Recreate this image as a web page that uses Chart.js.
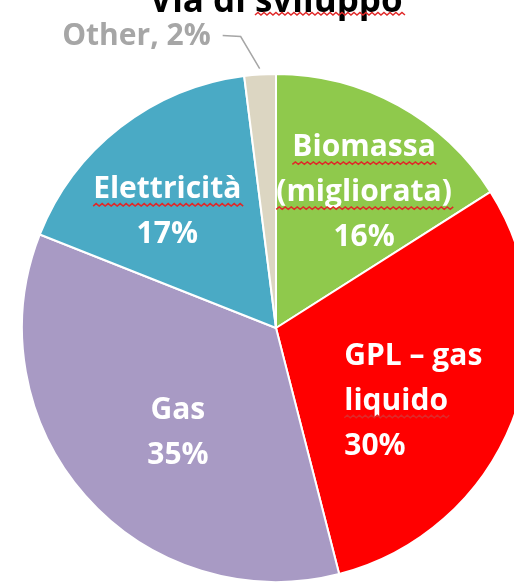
<!DOCTYPE html>
<html>
<head>
<meta charset="utf-8">
<script src="https://cdn.jsdelivr.net/npm/chart.js@4.4.1/dist/chart.umd.min.js"></script>
<style>
  html, body { margin: 0; padding: 0; background: #fff; overflow: hidden; }
  #wrap { width: 514px; height: 586px; overflow: hidden; }
</style>
</head>
<body>
<div id="wrap"><canvas id="myChart" width="552" height="586"></canvas></div>
<script>
// data
const title = "Via di sviluppo"
const categories = ["Biomassa (migliorata)", "GPL – gas liquido", "Gas", "Elettricità", "Other"]
const shares = [16, 30, 35, 17, 2]
const colors = ["#8fc94c", "#ff0000", "#a89ac4", "#4aaac5", "#dcd6c2"]
// label lines as written inside the slices
const labelLines = [
  ["Biomassa", "(migliorata)", "16%"],
  ["GPL – gas", "liquido", "30%"],
  ["Gas", "35%"],
  ["Elettricità", "17%"],
  ["Other, 2%"]
]
// words underlined by the spell checker in the original
const squiggly = ["sviluppo", "Biomassa", "(migliorata)", "Elettricità", "liquido"]

// where the label block sits: fraction of radius, angle nudge in degrees, alignment
const labelPlace = [
  {frac: 0.64, nudge: 4, align: 'center'},
  {frac: 0.61, nudge: 6, align: 'left'},
  {frac: 0.56, nudge: -5, align: 'center'},
  {frac: 0.63, nudge: -5, align: 'center'},
  null
]

const FONT = "'Open Sans', 'DejaVu Sans', sans-serif"

function wavy(ctx, x0, x1, y) {
  ctx.save()
  ctx.strokeStyle = '#e02828'
  ctx.lineWidth = 1.5
  ctx.beginPath()
  let up = true
  ctx.moveTo(x0, y)
  for (let x = x0; x < x1; x += 3) {
    ctx.lineTo(x + 3, up ? y - 2.5 : y)
    up = !up
  }
  ctx.stroke()
  ctx.restore()
}

const labelPlugin = {
  id: 'pieLabels',
  afterDraw(chart) {
    const ctx = chart.ctx
    const meta = chart.getDatasetMeta(0)
    const lh = 45

    // title, cut off at the top like the original
    ctx.save()
    ctx.font = "bold 35px " + FONT
    ctx.fillStyle = '#000'
    ctx.textAlign = 'center'
    ctx.textBaseline = 'alphabetic'
    ctx.fillText(title, 276, 12)
    const tw = ctx.measureText(title).width
    const sw = ctx.measureText("sviluppo").width
    wavy(ctx, 276 + tw / 2 - sw, 276 + tw / 2, 15)
    ctx.restore()

    meta.data.forEach((arc, i) => {
      const p = arc.getProps(['x', 'y', 'startAngle', 'endAngle', 'outerRadius'], true)
      const mid = (p.startAngle + p.endAngle) / 2
      const lines = labelLines[i]
      ctx.save()
      if (labelPlace[i]) {
        const pl = labelPlace[i]
        const a = mid + pl.nudge * Math.PI / 180
        const cx = p.x + Math.cos(a) * p.outerRadius * pl.frac
        const cy = p.y + Math.sin(a) * p.outerRadius * pl.frac
        ctx.font = "bold 30px " + FONT
        ctx.fillStyle = '#fff'
        ctx.textBaseline = 'alphabetic'
        const widest = Math.max(...lines.map(s => ctx.measureText(s).width))
        let x = cx
        if (pl.align === 'left') {
          ctx.textAlign = 'left'
          x = cx - widest / 2
        } else {
          ctx.textAlign = 'center'
        }
        const top = cy - (lines.length - 1) * lh / 2 + 10
        lines.forEach((s, k) => {
          const y = top + k * lh
          ctx.fillText(s, x, y)
          if (squiggly.includes(s)) {
            const w = ctx.measureText(s).width
            const x0 = pl.align === 'left' ? x : x - w / 2
            wavy(ctx, x0, x0 + w, y + 8)
          }
        })
      } else {
        // outside label with leader line
        const r = p.outerRadius + 6
        const x0 = p.x + Math.cos(mid) * r
        const y0 = p.y + Math.sin(mid) * r
        const x1 = x0 - 19, y1 = y0 - 32
        const x2 = x1 - 18, y2 = y1 - 1
        ctx.strokeStyle = '#a6a6a6'
        ctx.lineWidth = 1.5
        ctx.beginPath()
        ctx.moveTo(x0, y0)
        ctx.lineTo(x1, y1)
        ctx.lineTo(x2, y2)
        ctx.stroke()
        ctx.font = "bold 30px " + FONT
        ctx.fillStyle = '#a6a6a6'
        ctx.textAlign = 'right'
        ctx.textBaseline = 'alphabetic'
        ctx.fillText(lines[0], x2 - 12, y2 + 9)
      }
      ctx.restore()
    })
  }
}

const ctx = document.getElementById('myChart')
new Chart(ctx, {
  type: 'pie',
  data: {
    labels: categories,
    datasets: [{
      data: shares,
      backgroundColor: colors,
      borderColor: '#ffffff',
      borderWidth: 2
    }]
  },
  options: {
    responsive: false,
    animation: false,
    layout: {
      padding: {top: 73, bottom: 3, left: 0, right: 0}
    },
    plugins: {
      legend: {display: false},
      tooltip: {enabled: false},
      title: {display: false}
    }
  },
  plugins: [labelPlugin]
})
</script>
</body>
</html>
